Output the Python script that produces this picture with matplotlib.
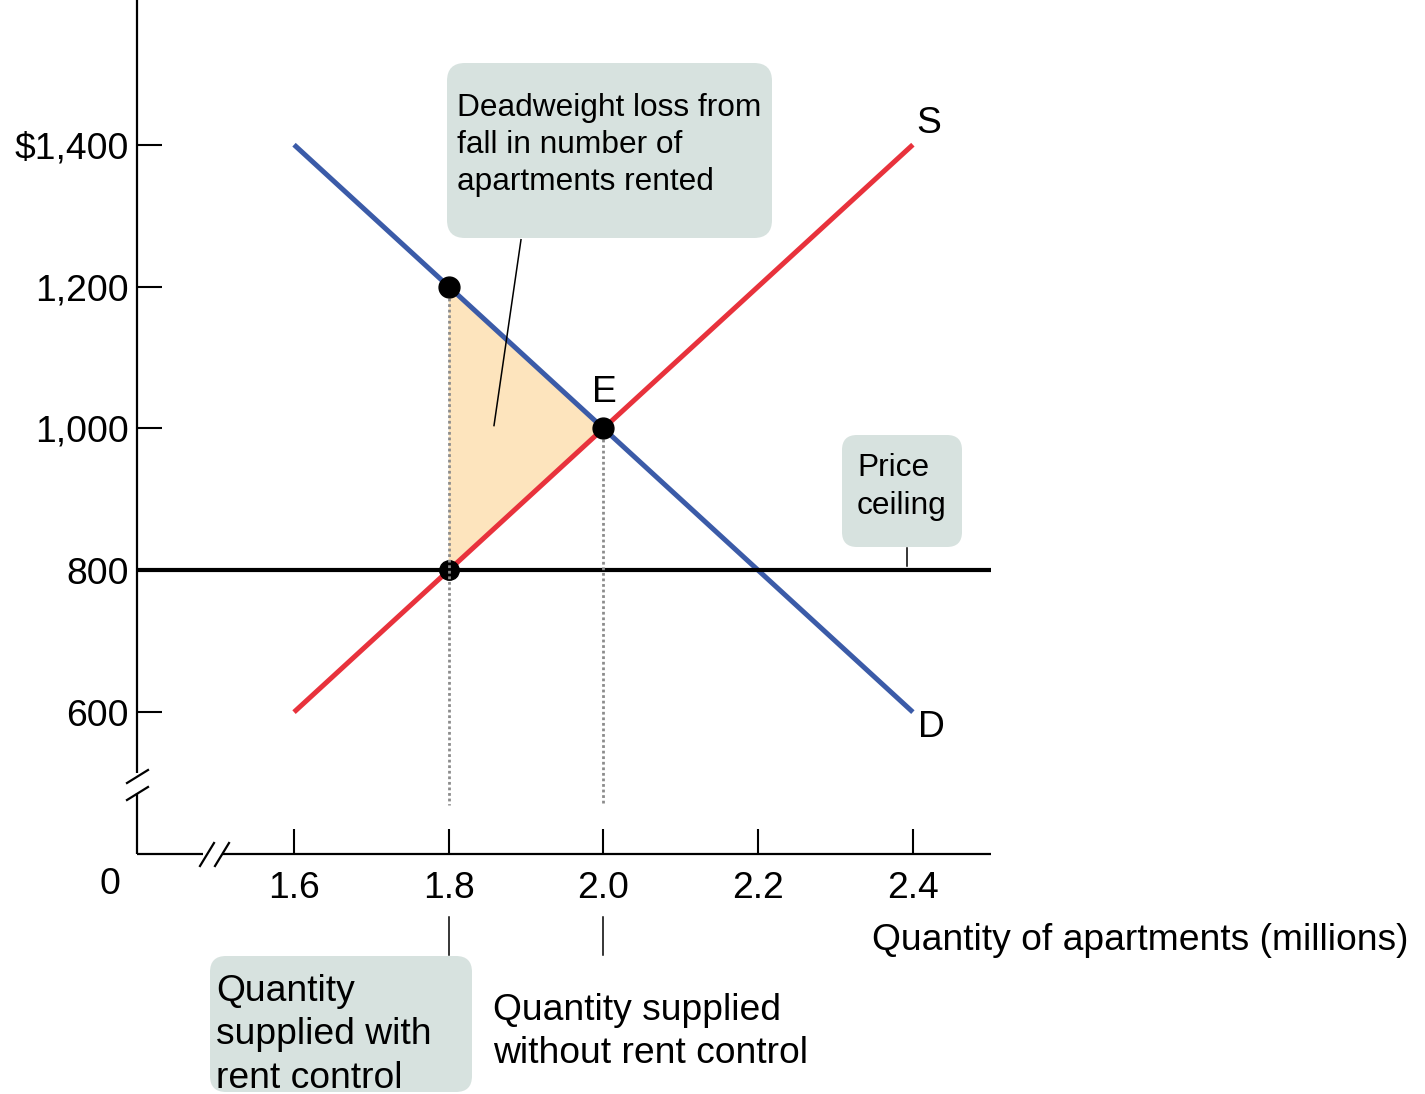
"""
Rent control as a price ceiling: supply, demand and deadweight loss.
"""

import matplotlib.pyplot as plt
from matplotlib.patches import FancyBboxPatch, Polygon
from matplotlib.transforms import Affine2D

plt.rcParams["font.family"] = ["Liberation Sans", "DejaVu Sans"]

# data
quantity_ticks = [1.6, 1.8, 2.0, 2.2, 2.4]
quantity_labels = ["1.6", "1.8", "2.0", "2.2", "2.4"]
price_ticks = [600, 800, 1000, 1200, 1400]
price_labels = ["600", "800", "1,000", "1,200", "$1,400"]

demand_q = [1.6, 2.4]
demand_p = [1400, 600]
supply_q = [1.6, 2.4]
supply_p = [600, 1400]

price_ceiling = 800
eq_q, eq_p = 2.0, 1000
q_with_control = 1.8
p_demand_at_control = 1200

BLUE = "#3b5ba8"
RED = "#e8323c"
BOX = "#d7e2df"
FILL = "#fde4bd"
W, H = 1425, 1094

fig = plt.figure(figsize=(W / 100, H / 100), dpi=100)
ax = fig.add_axes([137 / W, 1 - 854 / H, (991 - 137) / W, 854 / H])
ax.set_xlim(1.397, 2.501)
ax.set_ylim(400, 1604)
for s in ax.spines.values():
    s.set_visible(False)

# pixel transform for annotation boxes / loose text
px = Affine2D().scale(1 / W, -1 / H).translate(0, 1) + fig.transFigure

# axis lines with breaks
k = dict(color="black", lw=1.6, clip_on=False, transform=ax.transAxes, solid_capstyle="butt")
ax.plot([0, 0], [1.0, 0.0948], **k)
ax.plot([0, 0], [0.0714, 0], **k)
ax.plot([0, 0.0773], [0, 0], **k)
ax.plot([0.0995, 1.0], [0, 0], **k)
k2 = dict(color="black", lw=1.6, clip_on=False, transform=px)
ax.plot([127, 148], [783, 770], **k2)
ax.plot([127, 148], [800, 787], **k2)
ax.plot([200, 214], [866, 843], **k2)
ax.plot([215, 229], [866, 843], **k2)

# ticks
ax.set_xticks(quantity_ticks)
ax.set_xticklabels(quantity_labels)
ax.set_yticks(price_ticks)
ax.set_yticklabels(price_labels)
ax.tick_params(axis="x", direction="in", length=18, width=1.5, pad=12, labelsize=26.8)
ax.tick_params(axis="y", direction="in", length=18, width=1.5, pad=6, labelsize=26.8)
fig.text(110 / W, 1 - 885 / H, "0", fontsize=26.8, ha="center", va="center")

# deadweight loss triangle
tri = Polygon([[q_with_control, p_demand_at_control], [eq_q, eq_p],
               [q_with_control, price_ceiling]], closed=True,
              facecolor=FILL, edgecolor="none", zorder=1)
ax.add_patch(tri)

# curves
ax.plot(demand_q, demand_p, color=BLUE, lw=3.6, zorder=3, solid_capstyle="butt")
ax.plot(supply_q, supply_p, color=RED, lw=3.6, zorder=3, solid_capstyle="butt")
ax.plot(ax.get_xlim(), [price_ceiling, price_ceiling], color="black", lw=3,
        zorder=4, solid_capstyle="butt")

# points (the ceiling point sits under the dotted guide)
ax.plot([q_with_control, eq_q], [p_demand_at_control, eq_p],
        "o", color="black", ms=15, zorder=7)
ax.plot([q_with_control], [price_ceiling], "o", color="black", ms=14, zorder=5)

# dotted guides
ax.plot([q_with_control, q_with_control], [p_demand_at_control, 469],
        color="#8c8c8c", lw=2, ls=(0, (1, 1)), zorder=6, clip_on=False)
ax.plot([eq_q, eq_q], [eq_p, 469],
        color="#8c8c8c", lw=2, ls=(0, (1, 1)), zorder=6, clip_on=False)

# curve labels
ax.text(2.421, 1430, "S", fontsize=26.8, ha="center", va="center")
ax.text(2.4245, 578, "D", fontsize=26.8, ha="center", va="center")
ax.text(2.001, 1051, "E", fontsize=26.8, ha="center", va="center")

# deadweight loss callout
fig.add_artist(FancyBboxPatch((447, 63), 325, 175, boxstyle="round,pad=0,rounding_size=18",
                              facecolor=BOX, edgecolor="none", transform=px))
fig.text(457 / W, 1 - 145 / H, "Deadweight loss from\nfall in number of\napartments rented",
         fontsize=22.8, ha="left", va="center", linespacing=1.32)
ax.plot([1.8934, 1.8585], [1266, 1004], color="black", lw=1.1, zorder=8)

# price ceiling callout
fig.add_artist(FancyBboxPatch((842, 435), 120, 112, boxstyle="round,pad=0,rounding_size=15",
                              facecolor=BOX, edgecolor="none", transform=px))
fig.text(857 / W, 1 - 487 / H, "Price\nceiling", fontsize=22.8, ha="left", va="center",
         linespacing=1.32)
ax.plot([2.392, 2.392], [831, 806], color="black", lw=1.1, zorder=8)

# bottom callouts
ax.plot([q_with_control, q_with_control], [311, 258], color="black", lw=1.1, clip_on=False)
ax.plot([eq_q, eq_q], [311, 258], color="black", lw=1.1, clip_on=False)
fig.add_artist(FancyBboxPatch((210, 956), 262, 136, boxstyle="round,pad=0,rounding_size=16",
                              facecolor=BOX, edgecolor="none", transform=px))
fig.text(216 / W, 1 - 1035 / H, "Quantity\nsupplied with\nrent control",
         fontsize=26.8, ha="left", va="center", linespacing=1.3)
fig.text(493 / W, 1 - 1032 / H, "Quantity supplied\nwithout rent control",
         fontsize=26.8, ha="left", va="center", linespacing=1.3)

# axis titles (the y title sits above the top edge, only its descenders show)
fig.text(872 / W, 1 - 941 / H, "Quantity of apartments (millions)", fontsize=26.8,
         ha="left", va="center")
fig.text(-13 / W, 1 + 9 / H, "Monthly rent (per apartment)", fontsize=26.8,
         ha="left", va="baseline")

fig.savefig("out.png", dpi=100)
